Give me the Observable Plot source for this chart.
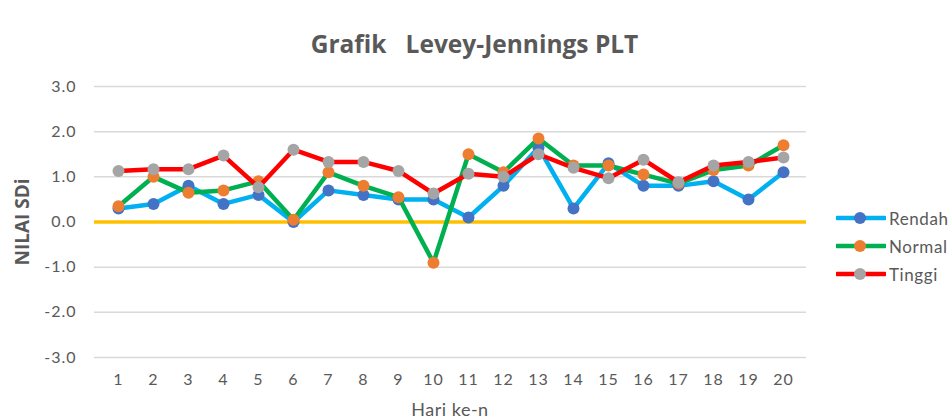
<!DOCTYPE html>
<html>
<head>
<meta charset="utf-8">
<script src="https://cdn.jsdelivr.net/npm/d3@7"></script>
<script src="https://cdn.jsdelivr.net/npm/@observablehq/plot@0.6"></script>
<style>
  html, body { margin: 0; padding: 0; background: #fff; }
  #wrap { position: relative; width: 949px; height: 419px; font-family: Lato, "Open Sans", sans-serif; color: #595959; }
  #title { position: absolute; left: 0; width: 949px; top: 43px; transform: translateY(-50%); text-align: center; font-family: "Open Sans", sans-serif; font-size: 24.5px; font-weight: bold; white-space: pre; }
  #ytitle { position: absolute; left: 22px; top: 222px; transform: translate(-50%, -50%) rotate(-90deg); font-family: "Open Sans", sans-serif; font-size: 19px; font-weight: bold; white-space: nowrap; }
  #xtitle { position: absolute; left: 450px; top: 409px; transform: translate(-50%, -50%); font-size: 18px; letter-spacing: 0.5px; white-space: nowrap; }
  #legend { position: absolute; left: 836px; top: 204px; }
  .lg { display: flex; align-items: center; height: 28px; font-size: 17px; letter-spacing: 0.6px; }
  .lg svg { margin-right: 3px; }
  #chart svg text { letter-spacing: 1px; }
</style>
</head>
<body>
<div id="wrap">
  <div id="chart"></div>
  <div id="title"></div>
  <div id="ytitle"></div>
  <div id="xtitle"></div>
  <div id="legend"></div>
</div>
<script>
const titleText = "Grafik   Levey-Jennings PLT";
const yTitle = "NILAI SDi";
const xTitle = "Hari ke-n";
const days = [1,2,3,4,5,6,7,8,9,10,11,12,13,14,15,16,17,18,19,20];
const yTicks = [-3, -2, -1, 0, 1, 2, 3];
const seriesNames = ["Rendah", "Normal", "Tinggi"];
const lineColors = ["#00B0F0", "#00B050", "#FF0000"];
const markerColors = ["#4472C4", "#ED7D31", "#A5A5A5"];
const rendah = [0.3, 0.4, 0.8, 0.4, 0.6, 0.0, 0.7, 0.6, 0.5, 0.5, 0.1, 0.8, 1.65, 0.3, 1.3, 0.8, 0.8, 0.9, 0.5, 1.1];
const normal = [0.35, 1.0, 0.65, 0.7, 0.9, 0.05, 1.1, 0.8, 0.55, -0.9, 1.5, 1.1, 1.85, 1.25, 1.25, 1.05, 0.85, 1.15, 1.25, 1.7];
const tinggi = [1.13, 1.17, 1.17, 1.47, 0.77, 1.6, 1.33, 1.33, 1.13, 0.63, 1.07, 1.0, 1.5, 1.2, 0.97, 1.38, 0.88, 1.25, 1.33, 1.43];

const seriesValues = [rendah, normal, tinggi];
const tables = seriesValues.map((vals, i) => days.map((d, j) => ({day: String(d), value: vals[j], series: seriesNames[i]})));

const marks = [
  Plot.gridY(yTicks, {stroke: "#D9D9D9", strokeOpacity: 1, strokeWidth: 1.5}),
  Plot.axisY(yTicks, {tickSize: 0, tickPadding: 18, fontSize: 16, fill: "#595959", tickFormat: d => d.toFixed(1), label: null}),
  Plot.axisX({tickSize: 0, tickPadding: 16, fontSize: 16, fill: "#595959", label: null}),
  Plot.ruleY([0], {stroke: "#FFC000", strokeWidth: 3.5})
];
tables.forEach((t, i) => {
  marks.push(Plot.line(t, {x: "day", y: "value", stroke: lineColors[i], strokeWidth: 4.5, curve: "linear"}));
  marks.push(Plot.dot(t, {x: "day", y: "value", r: 6, fill: markerColors[i], stroke: null}));
});

const chart = Plot.plot({
  width: 949,
  height: 419,
  marginLeft: 94,
  marginRight: 143,
  marginTop: 86,
  marginBottom: 62,
  style: {fontFamily: "Lato, 'Open Sans', sans-serif", background: "#fff", color: "#595959"},
  x: {type: "point", domain: days.map(String), padding: 0.5, label: null},
  y: {domain: [-3, 3], label: null},
  marks
});
document.getElementById("chart").appendChild(chart);
document.getElementById("title").textContent = titleText;
document.getElementById("ytitle").textContent = yTitle;
document.getElementById("xtitle").textContent = xTitle;

const lg = d3.select("#legend");
seriesNames.forEach((name, i) => {
  const row = lg.append("div").attr("class", "lg");
  const s = row.append("svg").attr("width", 50).attr("height", 14);
  s.append("line").attr("x1", 1).attr("x2", 49).attr("y1", 7).attr("y2", 7).attr("stroke", lineColors[i]).attr("stroke-width", 4.5).attr("stroke-linecap", "round");
  s.append("circle").attr("cx", 24).attr("cy", 7).attr("r", 6).attr("fill", markerColors[i]);
  row.append("span").text(name);
});
</script>
</body>
</html>
